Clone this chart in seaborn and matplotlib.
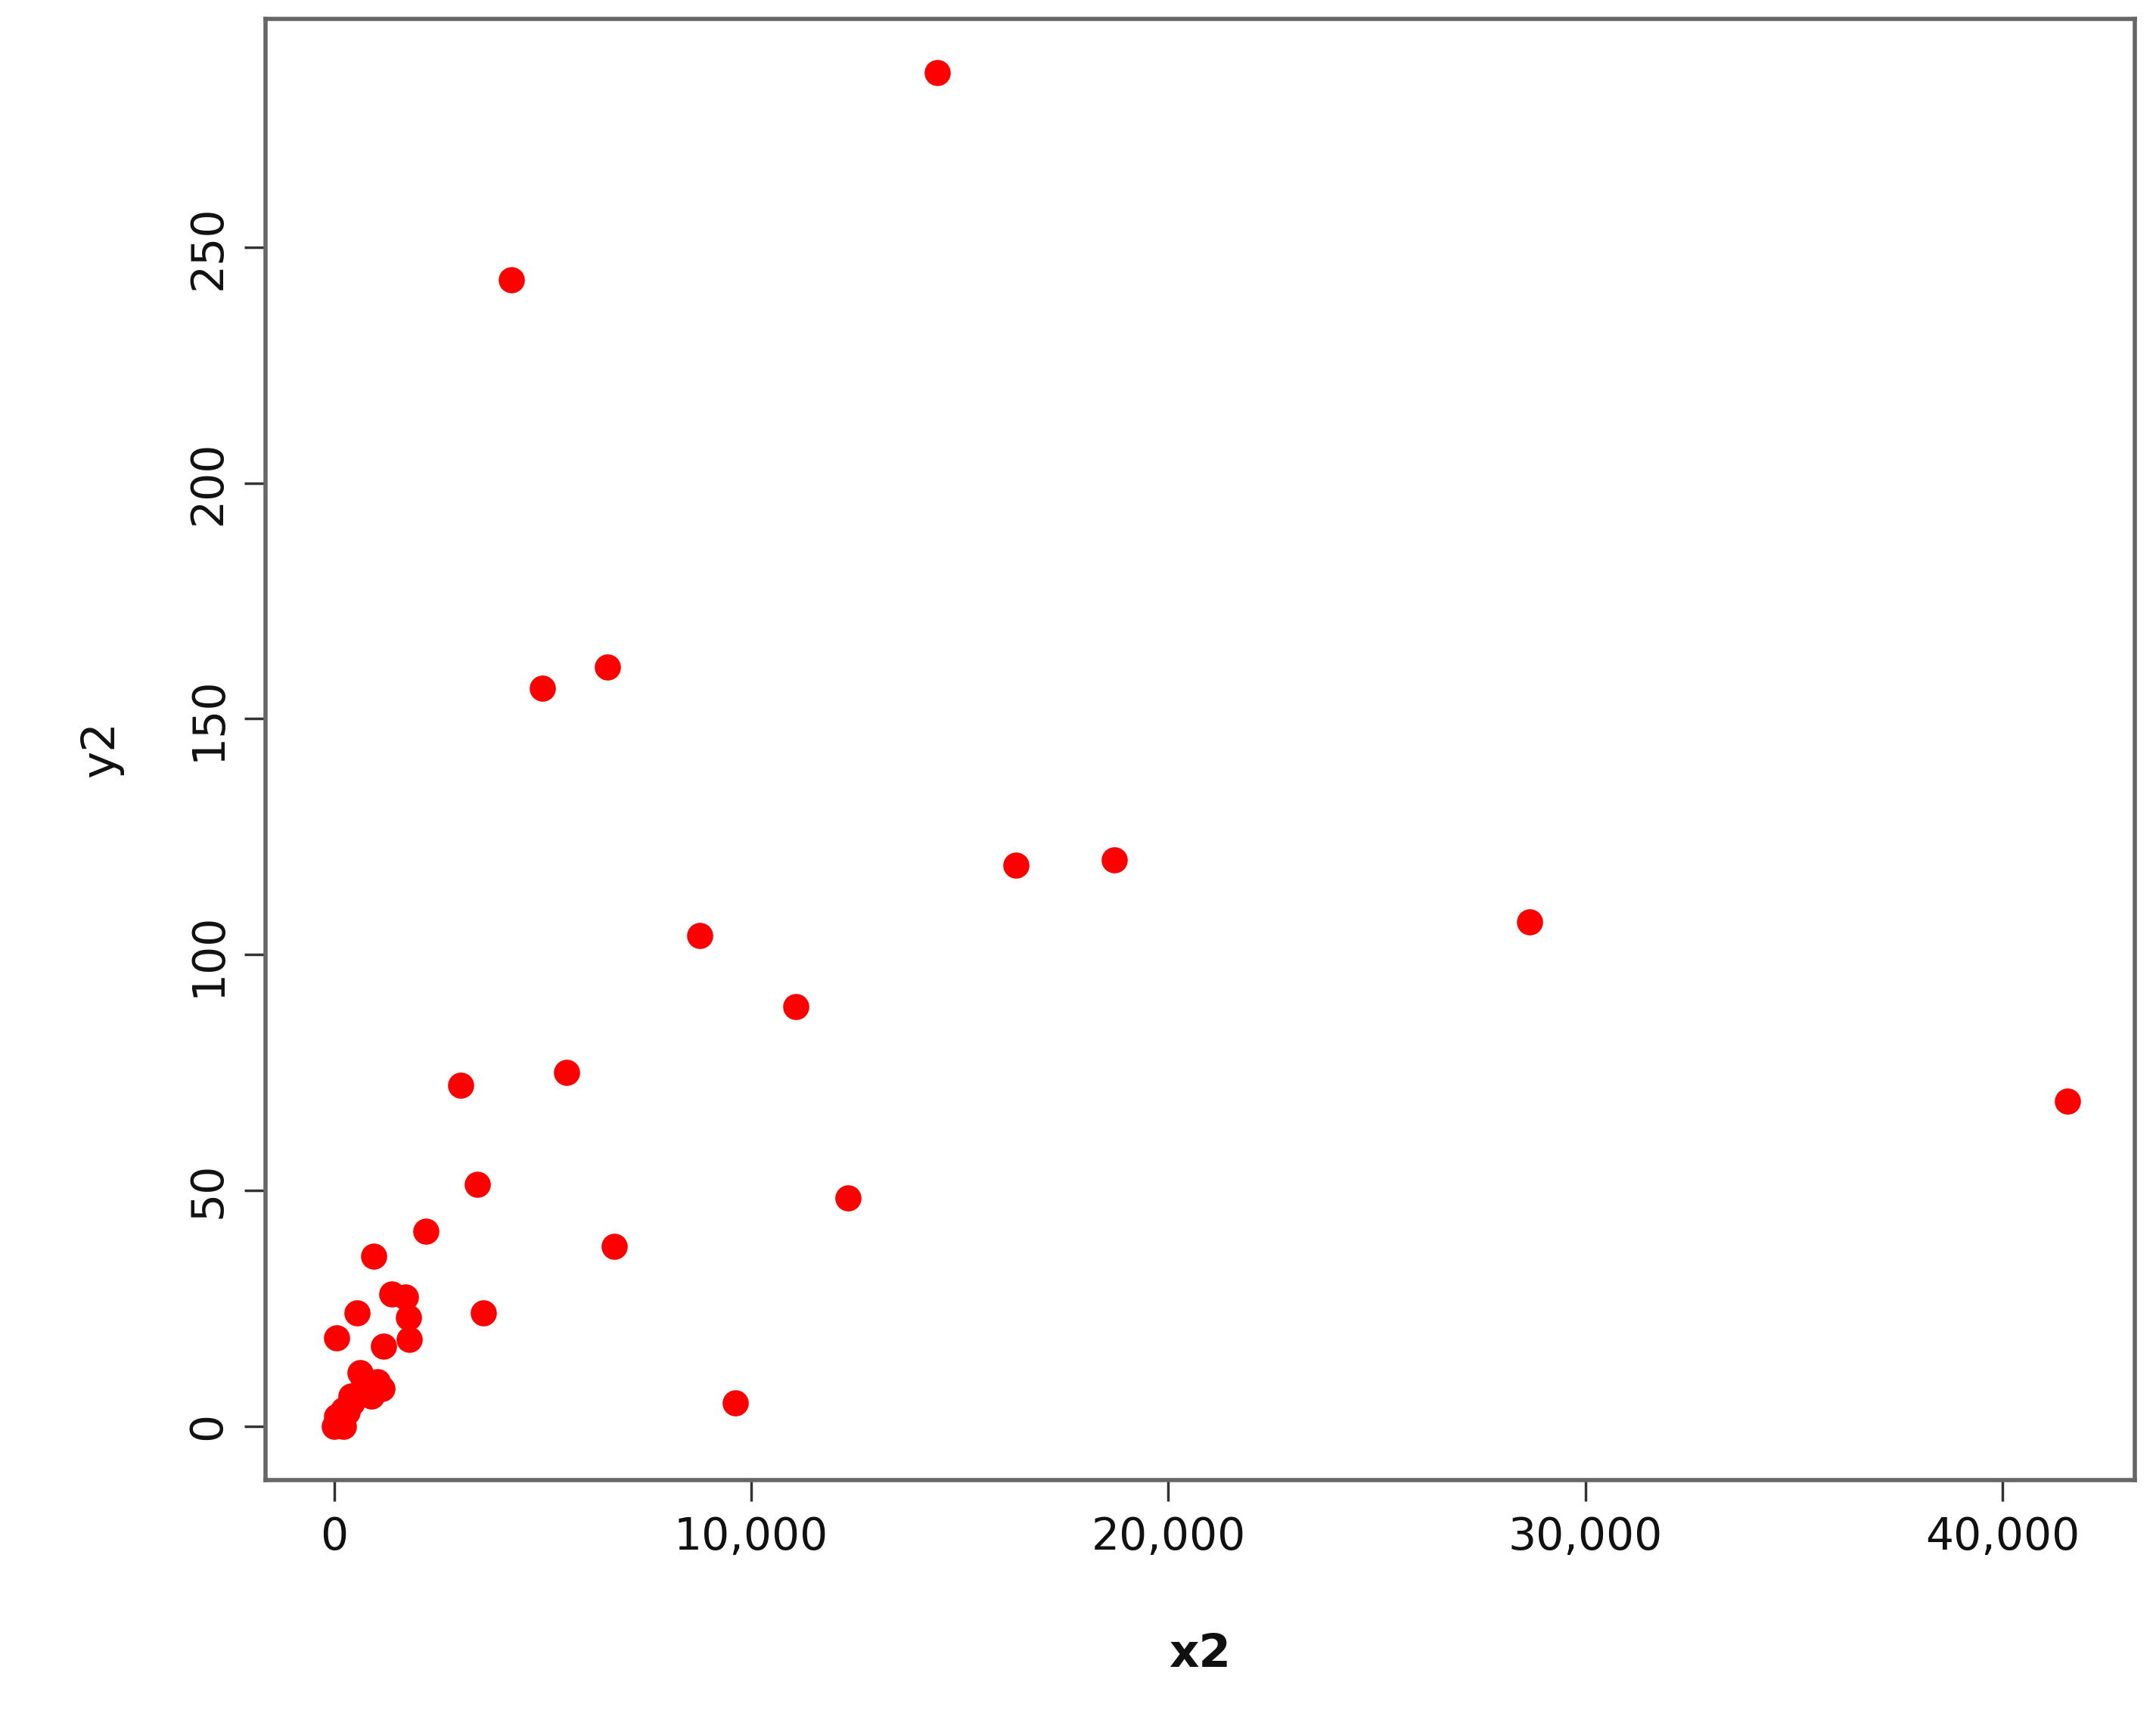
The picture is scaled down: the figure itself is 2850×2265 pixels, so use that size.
import matplotlib
matplotlib.use("Agg")
import matplotlib.pyplot as plt
import matplotlib.ticker as mticker
import seaborn as sns
import pandas as pd

# values
x2 = [14460, 4250, 6560, 5000, 16340, 18710, 28660, 8760, 11070, 5570,
      3030, 41550, 3430, 12320, 2200, 6720, 960, 9620, 3590, 560, 70,
      1380, 1710, 1780, 1810, 1190, 630, 1150, 890, 400, 230, 70, 0, 230,
      430, 720, 1050, 150, 320, 800]
y2 = [287, 243, 161, 156.5, 119, 120, 107, 104, 89, 75,
      72.3, 69, 51.3, 48.4, 41.4, 38.2, 36, 5, 24, 24, 18.7,
      28, 27.4, 23, 18.4, 17, 11.4, 8, 6.4, 6.4, 3.5, 2, 0, 0,
      5, 9.5, 9.5, 1, 3, 7]

df = pd.DataFrame({"x2": x2, "y2": y2})

sns.set_style("white")
fig = plt.figure(figsize=(28.5, 22.65), dpi=100)
ax = fig.add_axes([0.123, 0.136, 0.867, 0.853])

sns.scatterplot(data=df, x="x2", y="y2", color="red", s=620, linewidth=0, ax=ax)

ax.set_xlim(-1650, 43160)
ax.set_ylim(-11.4, 298.4)
ax.set_xticks([0, 10000, 20000, 30000, 40000])
ax.set_yticks([0, 50, 100, 150, 200, 250])
ax.xaxis.set_major_formatter(mticker.FuncFormatter(lambda v, p: f"{int(v):,}"))
ax.tick_params(axis="both", direction="out", length=20, width=2.5, labelsize=42,
               color="#333333", labelcolor="#111111", pad=14, bottom=True, left=True)
for lab in ax.get_yticklabels():
    lab.set_rotation(90)
    lab.set_va("center")
for s in ax.spines.values():
    s.set_color("#666666")
    s.set_linewidth(4)

ax.set_xlabel("x2", fontsize=44, fontweight="bold", labelpad=70, color="#111111")
ax.set_ylabel("y2", fontsize=44, labelpad=60, color="#111111")

fig.savefig("out.png", dpi=100)
